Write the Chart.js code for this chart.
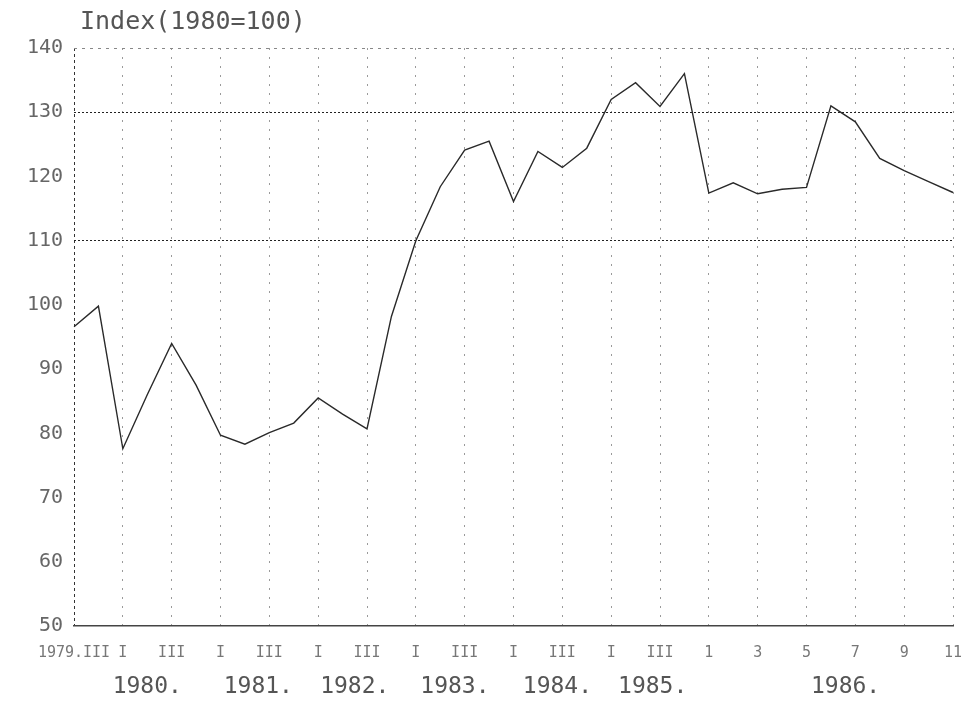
<!DOCTYPE html>
<html>
<head>
<meta charset="utf-8">
<script src="https://cdn.jsdelivr.net/npm/chart.js@4.4.0/dist/chart.umd.min.js"></script>
<style>
  html, body { margin: 0; padding: 0; background: #fff; }
  #wrap { width: 962px; height: 702px; }
</style>
</head>
<body>
<div id="wrap"><canvas id="myChart" width="962" height="702"></canvas></div>
<script>
// quarterly 1979-1985, then monthly 1986
var periods = ['1979.III', '', 'I', '', 'III', '', 'I', '', 'III', '', 'I', '', 'III', '',
               'I', '', 'III', '', 'I', '', 'III', '', 'I', '', 'III', '',
               '1', '', '3', '', '5', '', '7', '', '9', '', '11'];
var index = [96.6, 99.8, 77.6, 86.0, 94.0, 87.5, 79.7, 78.3, 80.1, 81.6, 85.5, 83.0, 80.7,
             98.2, 110.0, 118.4, 124.1, 125.5, 116.1, 123.9, 121.4, 124.4, 132.0, 134.6,
             130.9, 136.0, 117.4, 119.0, 117.3, 118.0, 118.3, 131.0, 128.5, 122.8, 120.9,
             119.2, 117.5];
var years = ['1980.', '1981.', '1982.', '1983.', '1984.', '1985.', '1986.'];
var yearAt = [3.0, 7.55, 11.5, 15.6, 19.8, 23.7, 31.6];
var yTicks = [50, 60, 70, 80, 90, 100, 110, 120, 130, 140];

var mono = 'DejaVu Sans Mono';

// title drawn at the top-left corner of the plot
const titlePlugin = {
    id: 'cornerTitle',
    afterDraw(chart) {
        const c = chart.ctx;
        c.save();
        c.font = '25px "' + mono + '"';
        c.fillStyle = '#555';
        c.textBaseline = 'top';
        c.fillText('Index(1980=100)', chart.chartArea.left + 6, 10);
        c.restore();
    }
};

function noSidePad(s, h) {
    s.height = h;
    s.paddingLeft = 0;
    s.paddingRight = 0;
}

const ctx = document.getElementById('myChart');
const data = {
    labels: periods,
    datasets: [{
        label: 'Index',
        data: index,
        borderColor: '#2a2a2a',
        borderWidth: 1.4,
        pointRadius: 0,
        tension: 0,
        fill: false
    }]
};

const config = {
    type: 'line',
    data: data,
    plugins: [titlePlugin],
    options: {
        responsive: false,
        animation: false,
        devicePixelRatio: 1,
        layout: { padding: { top: 48, right: 9, left: 0, bottom: 0 } },
        plugins: { legend: { display: false }, tooltip: { enabled: false } },
        scales: {
            x: {
                type: 'category',
                position: 'bottom',
                weight: 0,
                afterFit: function (s) { noSidePad(s, 38); },
                grid: {
                    drawTicks: false,
                    color: function (c) {
                        if (c.index === 0) return '#333';
                        return c.index % 2 === 0 ? '#9a9a9a' : 'rgba(0,0,0,0)';
                    },
                    lineWidth: 1
                },
                border: {
                    display: true,
                    color: '#444',
                    width: 1.5,
                    dash: function (c) { return c.index === 0 ? [3, 3] : [2, 7]; }
                },
                ticks: {
                    autoSkip: false,
                    maxRotation: 0,
                    minRotation: 0,
                    padding: 18,
                    color: '#777',
                    font: { family: mono, size: 15 },
                    callback: function (v, i) { return periods[i]; }
                }
            },
            x2: {
                type: 'linear',
                position: 'bottom',
                weight: 1,
                min: 0,
                max: index.length - 1,
                afterFit: function (s) { noSidePad(s, 38); },
                afterBuildTicks: function (s) {
                    s.ticks = yearAt.map(function (v) { return { value: v }; });
                },
                grid: { display: false, drawTicks: false },
                border: { display: false },
                ticks: {
                    autoSkip: false,
                    maxRotation: 0,
                    padding: 9,
                    color: '#555',
                    font: { family: mono, size: 23 },
                    callback: function (v, i) { return years[i]; }
                }
            },
            y: {
                min: 50,
                max: 140,
                afterFit: function (s) { s.width = 74; },
                afterBuildTicks: function (s) {
                    s.ticks = yTicks.map(function (v) { return { value: v }; });
                },
                grid: {
                    drawTicks: false,
                    color: function (c) {
                        var v = c.tick && c.tick.value;
                        if (v === 130 || v === 110) return '#222';
                        if (v === 140) return '#888';
                        return 'rgba(0,0,0,0)';
                    },
                    lineWidth: 1
                },
                border: {
                    display: false,
                    dash: function (c) {
                        var v = c.tick && c.tick.value;
                        return v === 140 ? [3, 5] : [2, 2];
                    }
                },
                ticks: {
                    padding: 11,
                    color: '#666',
                    font: { family: mono, size: 20 }
                }
            }
        }
    }
};

var chart = new Chart(ctx, config);
</script>
</body>
</html>
